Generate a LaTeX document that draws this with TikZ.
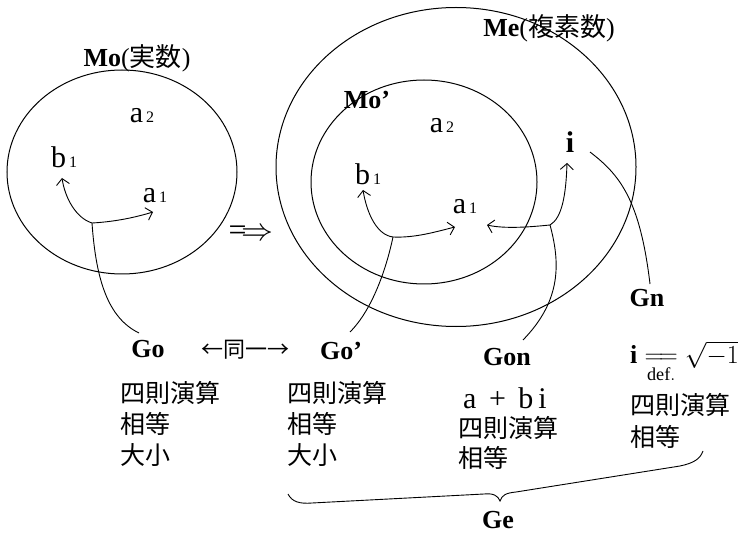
\RequirePackage{fix-cm}
\documentclass[tikz,border=0pt]{standalone}
\usepackage{amsmath}
\usepackage{fontspec}
\setmainfont{Liberation Serif}
\newfontfamily\cjk{Noto Sans CJK JP}
\usetikzlibrary{arrows.meta,shapes.geometric}
\newcommand\lblsub[2]{#1\kern3pt{\fontsize{16}{16}\selectfont #2}}
\tikzset{
  setc/.style={draw, ellipse, line width=1pt, inner sep=0pt},
  lab/.style={inner sep=0pt, font=\fontsize{26}{30}\selectfont},
  elem/.style={inner sep=0pt, font=\fontsize{30}{34}\selectfont},
  glab/.style={inner sep=0pt, font=\fontsize{26}{30}\selectfont\bfseries},
  jtxt/.style={inner sep=0pt, anchor=west, font=\fontsize{25}{30}\selectfont\cjk},
  conn/.style={line width=0.9pt},
  arr/.style={line width=0.9pt, -{Straight Barb[length=6pt,width=13pt]}},
}
\begin{document}
\begin{tikzpicture}[x=1pt,y=-1pt]
\useasboundingbox (0,0) rectangle (738,534);
% sets
\node[setc, minimum width=230pt, minimum height=204pt] (Mo) at (122,172) {};
\node[setc, minimum width=360pt, minimum height=319pt] (Me) at (456,167) {};
\node[setc, minimum width=226pt, minimum height=204pt] (Mop) at (424,182) {};
% set labels
\node[lab] (MoL) at (137,58) {\textbf{Mo}({\cjk 実数})};
\node[lab] (MeL) at (549,28) {\textbf{Me}({\cjk 複素数})};
\node[glab] (MopL) at (367,100) {Mo’};
% elements left
\node[elem] (a2L) at (142,116) {\lblsub{a}{2}};
\node[elem] (b1L) at (64,157) {\lblsub{b}{1}};
\node[elem] (a1L) at (155,196) {\lblsub{a}{1}};
% elements middle
\node[elem] (a2M) at (442,126) {\lblsub{a}{2}};
\node[elem] (b1M) at (368,174) {\lblsub{b}{1}};
\node[elem] (a1M) at (465,207) {\lblsub{a}{1}};
\node[glab, font=\fontsize{30}{34}\selectfont\bfseries] (iM) at (570,142) {i};
% implication arrow
\node[inner sep=0pt, font=\fontsize{22}{26}\selectfont] (impl) at (251,233) {\scalebox{1.45}{$\Longrightarrow$}};
% group labels
\node[glab] (Go) at (148,349) {Go};
\node[inner sep=0pt, font=\fontsize{22}{26}\selectfont\cjk] (same) at (245,350) {←同一→};
\node[glab] (Gop) at (341,351) {Go’};
\node[glab] (Gon) at (507,357) {Gon};
\node[glab] (Gn) at (647,298) {Gn};
\node[glab] (Ge) at (498,520) {Ge};
% junctions and ends
\coordinate (j1) at (92,223);
\coordinate (t1b) at (62,178);
\coordinate (t1a) at (153,212);
\coordinate (e1) at (139,333);
\coordinate (j2) at (393,237);
\coordinate (t2b) at (363,190);
\coordinate (t2a) at (455,227);
\coordinate (e2) at (350,332);
\coordinate (j3) at (550,225);
\coordinate (t3a) at (487,225);
\coordinate (t3i) at (567,163);
\coordinate (e3) at (523,340);
\coordinate (s4) at (590,152);
\coordinate (e4) at (650,284);
% left operations
\draw[arr] (j1) .. controls (76,218) and (65,198) .. (t1b);
\draw[arr] (j1) .. controls (110,222) and (130,219) .. (t1a);
\draw[conn] (j1) .. controls (96,280) and (108,318) .. (e1);
% middle operations
\draw[arr] (j2) .. controls (377,235) and (367,214) .. (t2b);
\draw[arr] (j2) .. controls (415,238) and (435,232) .. (t2a);
\draw[conn] (j2) .. controls (386,270) and (372,310) .. (e2);
% new operations
\draw[arr] (j3) .. controls (530,227) and (505,229) .. (t3a);
\draw[arr] (j3) .. controls (562,218) and (566,195) .. (t3i);
\draw[conn] (j3) .. controls (560,262) and (562,300) .. (e3);
\draw[conn] (s4) .. controls (620,175) and (640,200) .. (e4);
% column texts
\node[jtxt] (c1a) at (120,393) {四則演算};
\node[jtxt] (c1b) at (120,424) {相等};
\node[jtxt] (c1c) at (120,455) {大小};
\node[jtxt] (c2a) at (287,393) {四則演算};
\node[jtxt] (c2b) at (287,424) {相等};
\node[jtxt] (c2c) at (287,455) {大小};
\node[elem, anchor=west] (c3a) at (463,398) {a \,+\, b\,i};
\node[jtxt] (c3b) at (458,428) {四則演算};
\node[jtxt] (c3c) at (458,458) {相等};
\node[lab, anchor=west] (c4a) at (630,362) {$\mathbf{i}\underset{\mathrm{def.}}{=\!=}\sqrt{-1}$};
\node[jtxt] (c4b) at (630,405) {四則演算};
\node[jtxt] (c4c) at (630,437) {相等};
% brace
\draw[conn] (288,494) .. controls (292,502) and (300,504) .. (312,503) -- (484,494)
  .. controls (494,493) and (498,496) .. (500,501)
  .. controls (502,495) and (506,493) .. (516,492) -- (680,466)
  .. controls (694,463) and (700,459) .. (703,451);
\end{tikzpicture}
\end{document}
